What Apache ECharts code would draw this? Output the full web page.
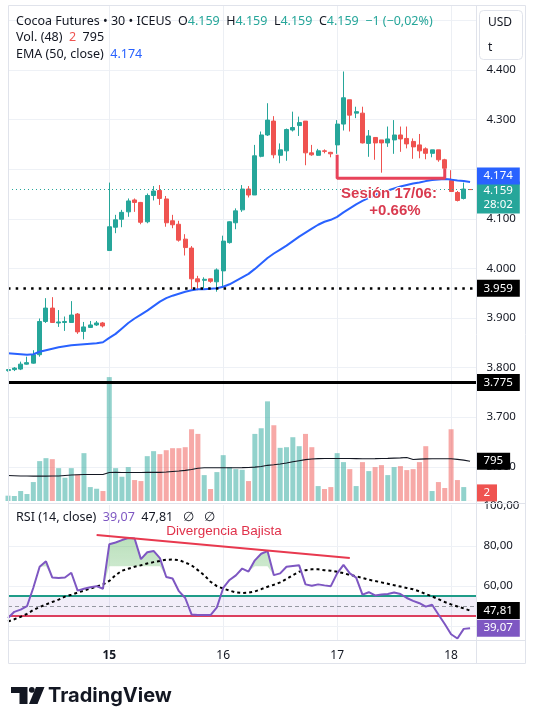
<!DOCTYPE html>
<html>
<head>
<meta charset="utf-8">
<title>Cocoa Futures 30 ICEUS</title>
<script src="https://cdn.jsdelivr.net/npm/echarts@6/dist/echarts.min.js"></script>
<style>
  html, body { margin: 0; padding: 0; background: #fff; }
  #chart { width: 537px; height: 713px; }
</style>
</head>
<body>
<div id="chart"></div>
<script>
// 30 min bars, 14 -> 18 June
const dayLabels = ['15', '16', '17', '18'];
const dayStarts = [16, 34, 52, 70];

const opens = [3.794,3.796,3.797,3.807,3.809,3.826,3.893,3.920,3.890,3.891, 3.891,3.908,3.873,3.881,3.886,3.890,4.036,4.083,4.099,4.114,
  4.138,4.133,4.094,4.147,4.157,4.140,4.096,4.089,4.059,4.041, 3.979,3.976,3.979,3.973,3.995,4.052,4.092,4.118,4.160,4.148,
  4.226,4.269,4.297,4.228,4.237,4.279,4.288,4.297,4.233,4.228, 4.237,4.234,4.249,4.291,4.340,4.313,4.313,4.252,4.264,4.259,
  4.253,4.259,4.269,4.262,4.256,4.249,4.241,4.232,4.239,4.219, 4.177,4.153,4.141,4.159];
const highs = [3.797,3.801,3.812,3.822,3.835,3.899,3.940,3.942,3.916,3.903, 3.934,3.910,3.892,3.894,3.894,3.892,4.173,4.108,4.118,4.141,
  4.141,4.134,4.151,4.166,4.168,4.146,4.108,4.096,4.069,4.045, 3.985,3.982,3.979,4.000,4.066,4.095,4.121,4.168,4.166,4.249,
  4.276,4.333,4.307,4.252,4.282,4.316,4.306,4.297,4.249,4.241, 4.240,4.235,4.299,4.397,4.340,4.326,4.326,4.279,4.264,4.259,
  4.286,4.299,4.286,4.286,4.262,4.271,4.244,4.239,4.239,4.221, 4.198,4.156,4.173,4.159];
const lows = [3.792,3.793,3.795,3.806,3.808,3.822,3.890,3.890,3.882,3.874, 3.890,3.868,3.857,3.880,3.884,3.881,4.036,4.071,4.083,4.104,
  4.114,4.089,4.091,4.137,4.128,4.084,4.081,4.054,4.026,3.958, 3.956,3.960,3.971,3.953,3.963,4.050,4.079,4.114,4.143,4.148,
  4.224,4.267,4.222,4.212,4.217,4.276,4.267,4.208,4.227,4.227, 4.232,4.224,4.231,4.278,4.276,4.303,4.252,4.225,4.219,4.193,
  4.245,4.231,4.235,4.242,4.221,4.222,4.220,4.224,4.215,4.198, 4.155,4.135,4.139,4.159];
const closes = [3.796,3.799,3.807,3.810,3.826,3.893,3.920,3.891,3.892,3.893, 3.906,3.872,3.882,3.886,3.890,3.884,4.084,4.098,4.113,4.136,
  4.133,4.093,4.147,4.156,4.141,4.092,4.088,4.057,4.042,3.979, 3.973,3.978,3.974,3.997,4.055,4.094,4.116,4.160,4.148,4.227,
  4.269,4.299,4.229,4.239,4.280,4.284,4.294,4.233,4.229,4.237, 4.236,4.231,4.291,4.344,4.309,4.316,4.253,4.267,4.253,4.253,
  4.261,4.269,4.261,4.251,4.245,4.237,4.232,4.239,4.219,4.202, 4.155,4.137,4.160,4.159];
const ema50 = [3.829,3.828,3.827,3.826,3.827,3.832,3.835,3.838,3.841,3.843, 3.845,3.846,3.847,3.848,3.849,3.851,3.860,3.868,3.879,3.890,
  3.899,3.907,3.915,3.924,3.933,3.940,3.945,3.949,3.953,3.956, 3.958,3.958,3.959,3.960,3.963,3.968,3.975,3.982,3.989,3.999,
  4.010,4.021,4.030,4.038,4.046,4.055,4.064,4.072,4.080,4.088, 4.094,4.098,4.104,4.113,4.121,4.129,4.136,4.142,4.148,4.153,
  4.157,4.161,4.165,4.168,4.171,4.173,4.176,4.178,4.179,4.180, 4.179,4.177,4.176,4.174];
const volumes = [106,100,199,139,378,796,855,835,656,464, 656,530,955,278,245,199,2473,656,484,676,
  418,398,895,995,935,1014,1054,1054,1074,1432, 1339,517,239,577,915,676,636,623,398,1339,
  1452,1989,1512,1061,1074,1273,1094,1339,1074,298, 239,278,955,776,636,298,776,597,676,716,
  517,676,696,617,636,776,1094,199,378,259, 1432,418,278,2];
const volumeMA = [510,505,500,498,497,497,497,498,500,510, 518,524,528,530,530,530,570,572,570,570,
  570,570,571,572,572,580,590,600,612,630, 655,663,663,663,663,665,665,667,670,676,
  690,712,725,740,760,785,805,825,838,845, 848,849,849,849,849,846,843,842,845,849,
  850,855,860,868,829,835,840,842,842,842, 842,830,815,795];
const rsi = [44.1,47.2,48.3,50.0,59.2,69.7,72.4,64.3,64.1,64.3, 66.7,57.8,58.7,59.5,60.0,58.7,80.9,81.8,83.0,84.0,
  83.8,73.5,76.9,77.6,74.0,64.6,63.8,57.5,54.1,45.9, 45.6,45.6,45.6,49.4,59.1,63.1,65.4,68.8,67.3,72.9,
  76.2,77.5,65.5,66.4,69.7,70.1,70.4,60.9,60.2,60.9, 60.4,60.0,66.4,70.6,66.4,64.3,55.8,57.0,55.4,55.8,
  56.1,56.8,56.1,54.1,52.7,51.5,49.8,50.7,45.9,41.1, 36.0,33.9,38.7,39.07];
const rsiMA = [42.4,43.5,44.7,46.2,48.1,49.6,50.9,52.1,53.3,54.8, 55.7,56.8,57.8,58.8,59.8,60.9,62.6,65.5,67.7,68.7,
  69.7,70.4,71.3,72.0,72.6,73.2,73.3,73.0,71.8,70.4, 68.0,65.5,62.2,60.0,58.8,57.8,56.9,56.6,56.8,57.4,
  58.5,59.7,60.7,61.9,63.6,65.5,67.2,68.0,68.4,68.4, 68.0,67.7,67.2,66.5,65.6,65.0,64.1,63.2,62.6,61.9,
  61.2,60.5,59.8,59.1,58.5,57.4,56.1,54.9,53.5,52.1, 50.9,49.9,48.9,47.81];

const rsiTicks = [100, 80, 60];
const rsiGridLevels = [80, 60, 40];
const hiddenPriceTicks = ['4.500', '4.200'];
const supportLevel = 3.959;
const lowLevel = 3.775;
const countdown = '28:02';
const obLevel = 70;
// drawings (bar index, value)
const sessionBracket = [[52, 4.229], [52, 4.182], [69, 4.182], [69, 4.201]];
const divergenceLine = [[14, 85.5], [54, 74.0]];

const UP = '#26a69a', DOWN = '#ef5350';
const FONT = '"Noto Sans", sans-serif';
const TXT = '#131722';
const HEAD = 12.5;

const last = opens.length - 1;
const cats = [];
for (let i = 0; i <= opens.length; i++) cats.push('b' + i);

const candles = opens.map((o, i) => [o, closes[i], lows[i], highs[i]]);
const volumeData = volumes.map((v, i) => {
    const up = closes[i] > opens[i] || (closes[i] === opens[i] && i > 0 && closes[i] >= closes[i - 1]);
    return { value: v, itemStyle: { color: up ? 'rgba(38,166,154,0.5)' : 'rgba(239,83,80,0.5)' } };
});
const rsiBase = rsi.map(v => Math.min(v, obLevel));
const rsiOver = rsi.map(v => Math.max(v - obLevel, 0));
const fmtComma = v => v.toFixed(2).replace('.', ',');

const boxLabel = (text, bg, offsetY) => ({
    show: true, position: 'end', distance: 0, formatter: text,
    color: '#fff', backgroundColor: bg, padding: [2, 7], fontSize: 11.5, lineHeight: 13,
    fontFamily: FONT, offset: [0, offsetY || 0]
});
// invisible line that still keeps its label
const hidden = { color: 'rgba(0,0,0,0)', width: 0 };
const richText = (color) => ({ fill: color, fontSize: HEAD, fontFamily: FONT });

const chartDom = document.getElementById('chart');
const myChart = echarts.init(chartDom);

const gridX = { left: 8, width: 468.4 };
const option = {
    animation: false,
    textStyle: { fontFamily: FONT },
    grid: [
        { ...gridX, top: 20.4, height: 446.4 },
        { ...gridX, top: 5, height: 496 },
        { ...gridX, top: 505, height: 135.3 }
    ],
    xAxis: [0, 1, 2].map(g => ({
        type: 'category',
        gridIndex: g,
        data: cats,
        boundaryGap: false,
        axisLine: { show: false },
        axisTick: { show: false },
        axisLabel: g === 2 ? {
            interval: i => dayStarts.includes(i),
            margin: 9,
            formatter: (v, i) => {
                const k = dayStarts.indexOf(i);
                return k === 0 ? '{b|' + dayLabels[k] + '}' : '{n|' + dayLabels[k] + '}';
            },
            rich: {
                b: { fontWeight: 'bold', fontSize: 12, color: TXT, fontFamily: FONT },
                n: { fontSize: 12, color: TXT, fontFamily: FONT }
            }
        } : { show: false },
        splitLine: {
            show: g !== 0,
            interval: i => dayStarts.includes(i),
            lineStyle: { color: '#eceff4', width: 1 }
        }
    })),
    yAxis: [
        {
            type: 'value', gridIndex: 0, position: 'right',
            min: 3.6, max: 4.5, interval: 0.1,
            axisLine: { show: false }, axisTick: { show: false },
            axisLabel: {
                margin: 10, color: TXT, fontSize: 11.5, fontFamily: FONT,
                formatter: v => hiddenPriceTicks.includes(v.toFixed(3)) ? '' : v.toFixed(3)
            },
            splitLine: { lineStyle: { color: '#eef1f6' } }
        },
        { type: 'value', gridIndex: 1, min: 0, max: 9900, show: false },
        {
            type: 'value', gridIndex: 2, position: 'right',
            min: 33, max: 100.5,
            axisLine: { show: false }, axisTick: { show: false },
            axisLabel: {
                customValues: rsiTicks, margin: 7, color: TXT, fontSize: 11.5, fontFamily: FONT,
                formatter: v => fmtComma(v)
            },
            splitLine: { show: false }
        }
    ],
    series: [
        {
            name: 'Volume', type: 'bar', xAxisIndex: 1, yAxisIndex: 1,
            data: volumeData, barWidth: 5,
            markLine: {
                silent: true, symbol: 'none',
                data: [{ yAxis: volumes[last], lineStyle: hidden, label: boxLabel(String(volumes[last]), DOWN, -8) }]
            }
        },
        {
            name: 'Vol MA', type: 'line', xAxisIndex: 1, yAxisIndex: 1,
            data: volumeMA, symbol: 'none',
            lineStyle: { color: '#131722', width: 1.1 },
            markLine: {
                silent: true, symbol: 'none',
                data: [{ yAxis: volumeMA[last], lineStyle: hidden, label: boxLabel(String(volumeMA[last]), '#000') }]
            }
        },
        {
            name: 'Cocoa', type: 'candlestick', xAxisIndex: 0, yAxisIndex: 0,
            data: candles, barWidth: 4.5,
            itemStyle: { color: UP, color0: DOWN, borderColor: UP, borderColor0: DOWN, borderColorDoji: DOWN, borderWidth: 1 },
            markLine: {
                silent: true, symbol: 'none',
                data: [
                    {
                        yAxis: closes[last],
                        lineStyle: { color: UP, width: 1, type: [1, 3] },
                        label: { ...boxLabel(closes[last].toFixed(3) + '\n' + countdown, UP, 8.5), lineHeight: 14 }
                    },
                    {
                        yAxis: supportLevel,
                        lineStyle: { color: '#000', width: 2.5, type: [2.5, 5.2] },
                        label: boxLabel(supportLevel.toFixed(3), '#000')
                    },
                    {
                        yAxis: lowLevel,
                        lineStyle: { color: '#000', width: 3, type: 'solid' },
                        label: boxLabel(lowLevel.toFixed(3), '#000')
                    }
                ]
            }
        },
        {
            name: 'EMA 50', type: 'line', xAxisIndex: 0, yAxisIndex: 0,
            data: ema50, symbol: 'none',
            lineStyle: { color: '#2962ff', width: 2 },
            markLine: {
                silent: true, symbol: 'none',
                data: [{ yAxis: ema50[last], lineStyle: hidden, label: boxLabel(ema50[last].toFixed(3), '#2962ff', -8) }]
            }
        },
        {
            name: 'Sesion', type: 'line', xAxisIndex: 0, yAxisIndex: 0,
            data: sessionBracket, symbol: 'none',
            lineStyle: { color: '#e8435a', width: 3 }
        },
        {
            name: 'RSI base', type: 'line', xAxisIndex: 2, yAxisIndex: 2,
            data: rsiBase, stack: 'ob', symbol: 'none', lineStyle: { width: 0 },
            markArea: {
                silent: true, z: 1,
                itemStyle: { color: 'rgba(126,87,194,0.10)' },
                data: [[{ yAxis: 45 }, { yAxis: 55 }]]
            },
            markLine: {
                silent: true, symbol: 'none', z: 1,
                label: { show: false },
                data: rsiGridLevels.map(v => ({ yAxis: v, lineStyle: { color: '#eef1f6', width: 1, type: 'solid' } })).concat([
                    { yAxis: 55, lineStyle: { color: '#1f9c88', width: 2, type: 'solid' } },
                    { yAxis: 50, lineStyle: { color: '#9598a1', width: 1, type: [4, 3] } },
                    { yAxis: 45, lineStyle: { color: '#dc3f5e', width: 2, type: 'solid' } }
                ])
            }
        },
        {
            name: 'RSI over', type: 'line', xAxisIndex: 2, yAxisIndex: 2,
            data: rsiOver, stack: 'ob', symbol: 'none', lineStyle: { width: 0 },
            areaStyle: {
                color: new echarts.graphic.LinearGradient(0, 0, 0, 1, [
                    { offset: 0, color: 'rgba(76,175,80,0.55)' },
                    { offset: 1, color: 'rgba(76,175,80,0.05)' }
                ])
            }
        },
        {
            name: 'RSI MA', type: 'line', xAxisIndex: 2, yAxisIndex: 2,
            data: rsiMA, symbol: 'none',
            lineStyle: { color: '#000', width: 2, type: [3, 3] },
            markLine: {
                silent: true, symbol: 'none',
                data: [{ yAxis: rsiMA[last], lineStyle: hidden, label: boxLabel(fmtComma(rsiMA[last]), '#000') }]
            }
        },
        {
            name: 'RSI', type: 'line', xAxisIndex: 2, yAxisIndex: 2,
            data: rsi, symbol: 'none',
            lineStyle: { color: '#7e57c2', width: 2 },
            markLine: {
                silent: true, symbol: 'none',
                data: [{ yAxis: rsi[last], lineStyle: hidden, label: boxLabel(fmtComma(rsi[last]), '#7e57c2') }]
            }
        },
        {
            name: 'Divergencia', type: 'line', xAxisIndex: 2, yAxisIndex: 2,
            data: divergenceLine, symbol: 'none',
            lineStyle: { color: '#e8394f', width: 2 }
        }
    ],
    graphic: [
        { type: 'rect', z: 50, shape: { x: 8.5, y: 5.5, width: 517, height: 658 }, style: { fill: 'none', stroke: '#e0e3eb', lineWidth: 1 } },
        { type: 'line', z: 50, shape: { x1: 476.5, y1: 5, x2: 476.5, y2: 664 }, style: { stroke: '#e0e3eb', lineWidth: 1 } },
        { type: 'line', z: 50, shape: { x1: 8, y1: 503.5, x2: 526, y2: 503.5 }, style: { stroke: '#e0e3eb', lineWidth: 1 } },
        { type: 'line', z: 50, shape: { x1: 8, y1: 640.5, x2: 526, y2: 640.5 }, style: { stroke: '#e0e3eb', lineWidth: 1 } },
        { type: 'rect', z: 60, shape: { x: 479.5, y: 10.5, width: 43, height: 49, r: 4 }, style: { fill: '#fff', stroke: '#e0e3eb' } },
        { type: 'text', z: 61, x: 488, y: 23, style: { text: 'USD', font: '12px ' + FONT, fill: TXT, verticalAlign: 'middle' } },
        { type: 'text', z: 61, x: 488, y: 48, style: { text: 't', font: '12px ' + FONT, fill: TXT, verticalAlign: 'middle' } },
        {
            type: 'text', z: 70, x: 16, y: 21,
            style: {
                text: '{d|Cocoa Futures • 30 • ICEUS}  {d|O}{g|' + opens[last].toFixed(3) + '}  {d|H}{g|' + highs[last].toFixed(3) +
                    '}  {d|L}{g|' + lows[last].toFixed(3) + '}  {d|C}{g|' + closes[last].toFixed(3) + '}  {g|−1 (−0,02%)}',
                font: HEAD + 'px ' + FONT, verticalAlign: 'middle',
                rich: { d: richText(TXT), g: richText(UP) }
            }
        },
        {
            type: 'text', z: 70, x: 16, y: 37.5,
            style: {
                text: '{d|Vol. (48)}  {r|' + volumes[last] + '}  {d|' + volumeMA[last] + '}',
                font: HEAD + 'px ' + FONT, verticalAlign: 'middle',
                rich: { d: richText(TXT), r: richText(DOWN) }
            }
        },
        {
            type: 'text', z: 70, x: 16, y: 54,
            style: {
                text: '{d|EMA (50, close)}  {b|' + ema50[last].toFixed(3) + '}',
                font: HEAD + 'px ' + FONT, verticalAlign: 'middle',
                rich: { d: richText(TXT), b: richText('#2962ff') }
            }
        },
        {
            type: 'text', z: 70, x: 16, y: 517,
            style: {
                text: '{d|RSI (14, close)}  {p|' + fmtComma(rsi[last]) + '}  {d|' + fmtComma(rsiMA[last]) + '}   {d|∅}   {d|∅}',
                font: HEAD + 'px ' + FONT, verticalAlign: 'middle',
                rich: { d: richText(TXT), p: richText('#7e57c2') }
            }
        },
        { type: 'text', z: 70, x: 224, y: 531, style: { text: 'Divergencia Bajista', font: '13.5px "Liberation Sans"', fill: '#e0314a', align: 'center', verticalAlign: 'middle' } },
        { type: 'text', z: 70, x: 389, y: 194, style: { text: 'Sesión 17/06:', font: 'bold 15px "Liberation Sans"', fill: '#d93a4f', align: 'center', verticalAlign: 'middle', stroke: '#fff', lineWidth: 2 } },
        { type: 'text', z: 70, x: 395, y: 211, style: { text: '+0.66%', font: 'bold 15px "Liberation Sans"', fill: '#d93a4f', align: 'center', verticalAlign: 'middle', stroke: '#fff', lineWidth: 2 } },
        { type: 'polygon', z: 70, shape: { points: [[11, 687], [27.5, 687], [27.5, 704], [19.5, 704], [19.5, 693], [11, 693]] }, style: { fill: TXT } },
        { type: 'circle', z: 70, shape: { cx: 31.8, cy: 689.8, r: 2.9 }, style: { fill: TXT } },
        { type: 'polygon', z: 70, shape: { points: [[29, 704], [37.5, 704], [44.5, 687], [36, 687]] }, style: { fill: TXT } },
        { type: 'text', z: 70, x: 48, y: 695.5, style: { text: 'TradingView', font: 'bold 20px Inter', fill: TXT, verticalAlign: 'middle' } }
    ]
};

option && myChart.setOption(option);
</script>
</body>
</html>
